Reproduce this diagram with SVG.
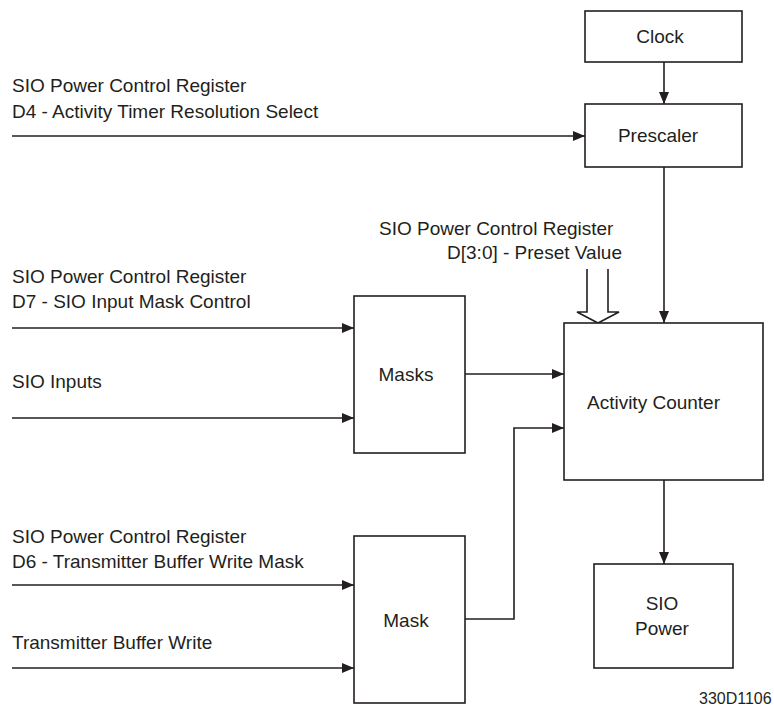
<svg xmlns="http://www.w3.org/2000/svg" width="774" height="709" viewBox="0 0 774 709">
<style>
text{font-family:"Liberation Sans",Arial,sans-serif;font-size:19px;fill:#231f20}
.box{fill:#fff;stroke:#231f20;stroke-width:1.6}
.ln{fill:none;stroke:#231f20;stroke-width:1.6}
.c{text-anchor:middle}
</style>
<defs>
<marker id="ah" markerWidth="12" markerHeight="10" refX="12" refY="5" orient="auto" markerUnits="userSpaceOnUse">
<path d="M0,0 L12,5 L0,10 Z" fill="#231f20"/>
</marker>
</defs>
<rect width="774" height="709" fill="#fff"/>
<g id="labels">
<text x="12" y="92">SIO Power Control Register</text>
<text x="12" y="118">D4 - Activity Timer Resolution Select</text>
<text x="379" y="235">SIO Power Control Register</text>
<text x="622" y="259" text-anchor="end">D[3:0] - Preset Value</text>
<text x="12" y="283">SIO Power Control Register</text>
<text x="12" y="308">D7 - SIO Input Mask Control</text>
<text x="12" y="388">SIO Inputs</text>
<text x="12" y="543">SIO Power Control Register</text>
<text x="12" y="568">D6 - Transmitter Buffer Write Mask</text>
<text x="12" y="649">Transmitter Buffer Write</text>
<text x="699" y="704" style="font-size:16px">330D1106</text>
</g>
<g id="connectors">
<line class="ln" x1="664" y1="62" x2="664" y2="104" marker-end="url(#ah)"/>
<line class="ln" x1="12" y1="136" x2="585" y2="136" marker-end="url(#ah)"/>
<line class="ln" x1="664" y1="167" x2="664" y2="323" marker-end="url(#ah)"/>
<polyline class="ln" points="587,269 587,312 577,312 598,323 619,312 608,312 608,269"/>
<line class="ln" x1="12" y1="328" x2="354" y2="328" marker-end="url(#ah)"/>
<line class="ln" x1="12" y1="418" x2="354" y2="418" marker-end="url(#ah)"/>
<line class="ln" x1="465" y1="374" x2="564" y2="374" marker-end="url(#ah)"/>
<polyline class="ln" points="465,619 514,619 514,428 564,428" marker-end="url(#ah)"/>
<line class="ln" x1="664" y1="480" x2="664" y2="564" marker-end="url(#ah)"/>
<line class="ln" x1="12" y1="585" x2="354" y2="585" marker-end="url(#ah)"/>
<line class="ln" x1="12" y1="668" x2="354" y2="668" marker-end="url(#ah)"/>
</g>
<g id="clock">
<rect class="box" x="585" y="11" width="157" height="51"/>
<text class="c" x="660" y="43">Clock</text>
</g>
<g id="prescaler">
<rect class="box" x="585" y="104" width="157" height="63"/>
<text class="c" x="658" y="142">Prescaler</text>
</g>
<g id="masks">
<rect class="box" x="354" y="296" width="111" height="157"/>
<text class="c" x="406" y="381">Masks</text>
</g>
<g id="activity-counter">
<rect class="box" x="564" y="323" width="199" height="157"/>
<text class="c" x="653.5" y="409">Activity Counter</text>
</g>
<g id="mask">
<rect class="box" x="354" y="536" width="111" height="167"/>
<text class="c" x="406" y="627">Mask</text>
</g>
<g id="sio-power">
<rect class="box" x="594" y="564" width="139" height="104"/>
<text class="c" x="662" y="610">SIO</text>
<text class="c" x="662" y="635">Power</text>
</g>
</svg>
